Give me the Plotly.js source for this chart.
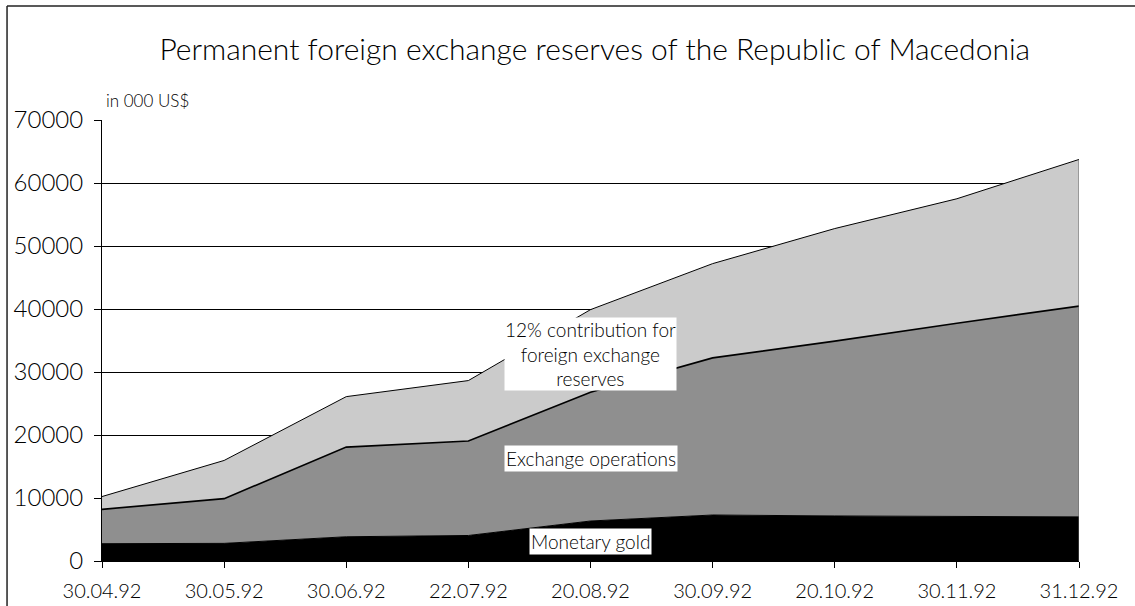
<!DOCTYPE html>
<html>
<head>
<meta charset="utf-8">
<script src="https://cdn.plot.ly/plotly-3.0.1.min.js"></script>
<style>
html,body{margin:0;padding:0;background:#fff;}
#chart{width:1135px;height:606px;}
</style>
</head>
<body>
<div id="chart"></div>
<script>
const categories = ["30.04.92","30.05.92","30.06.92","22.07.92","20.08.92","30.09.92","20.10.92","30.11.92","31.12.92"];
// values in 000 US$ (stack components)
const monetaryGold = [2750, 2800, 3850, 4050, 6350, 7300, 7150, 7100, 7000];
const exchangeOperations = [5450, 7100, 14230, 14990, 20450, 24940, 27750, 30650, 33460];
const contribution12 = [2030, 6060, 8010, 9600, 13100, 14960, 17870, 19750, 23280];

const seriesNames = ["Monetary gold", "Exchange operations", "12% contribution for foreign exchange reserves"];
const fontFam = "Lato, 'Open Sans', sans-serif";
const W = 300;

const traces = [
  {x: categories, y: monetaryGold, name: seriesNames[0], type: "scatter", mode: "lines",
   stackgroup: "one", fillcolor: "#000000", line: {color: "#000000", width: 1}},
  {x: categories, y: exchangeOperations, name: seriesNames[1], type: "scatter", mode: "lines",
   stackgroup: "one", fillcolor: "#8f8f8f", line: {color: "#000000", width: 1.6}},
  {x: categories, y: contribution12, name: seriesNames[2], type: "scatter", mode: "lines",
   stackgroup: "one", fillcolor: "#cbcbcb", line: {color: "#000000", width: 1}}
];

const layout = {
  width: 1135, height: 606,
  margin: {l: 102, r: 56, t: 120, b: 45},
  paper_bgcolor: "#ffffff", plot_bgcolor: "#ffffff",
  showlegend: false,
  font: {family: fontFam, color: "#000", weight: W},
  title: {text: "Permanent foreign exchange reserves of the Republic of Macedonia",
          font: {family: fontFam, size: 30, color: "#000", weight: W},
          x: 0.524, xanchor: "center", y: 0.918, yanchor: "middle"},
  xaxis: {type: "category", range: [0, 8], showgrid: false, zeroline: false,
          showline: true, linecolor: "#000", linewidth: 1,
          ticks: "outside", ticklen: 6, tickcolor: "#000", tickwidth: 1,
          ticklabelstandoff: 6,
          tickfont: {family: fontFam, size: 20, color: "#000", weight: W}},
  yaxis: {range: [0, 70000], dtick: 10000, tickformat: "d",
          showgrid: true, gridcolor: "#000", gridwidth: 1, zeroline: false,
          showline: true, linecolor: "#000", linewidth: 1,
          ticks: "outside", ticklen: 7, tickcolor: "#000", tickwidth: 1,
          ticklabelstandoff: 6,
          tickfont: {family: fontFam, size: 24, color: "#000", weight: W}},
  shapes: [
    {type: "line", xref: "x", yref: "y", x0: 8, x1: 8, y0: 0,
     y1: monetaryGold[8] + exchangeOperations[8] + contribution12[8],
     line: {color: "#666", width: 1}, layer: "above"},
    {type: "line", xref: "paper", yref: "paper", x0: -0.0972, x1: -0.0972, y0: -0.11, y1: 1.2585,
     line: {color: "#222", width: 1.5}},
    {type: "line", xref: "paper", yref: "paper", x0: -0.0972, x1: 1.06, y0: 1.2585, y1: 1.2585,
     line: {color: "#222", width: 1.5}}
  ],
  annotations: [
    {xref: "paper", yref: "paper", x: 0.002, y: 1.016, xanchor: "left", yanchor: "bottom",
     text: "in 000 US$", showarrow: false, font: {family: fontFam, size: 17, color: "#000", weight: W}},
    {xref: "x", yref: "y", x: 4, y: 32900, text: "12% contribution for<br>foreign exchange<br>reserves",
     showarrow: false, bgcolor: "#ffffff", borderpad: 0,
     font: {family: fontFam, size: 19, color: "#000", weight: W}},
    {xref: "x", yref: "y", x: 4, y: 16350, text: "Exchange operations",
     showarrow: false, bgcolor: "#ffffff", borderpad: 1,
     font: {family: fontFam, size: 19, color: "#000", weight: W}},
    {xref: "x", yref: "y", x: 4, y: 3150, text: "Monetary gold",
     showarrow: false, bgcolor: "#ffffff", borderpad: 1,
     font: {family: fontFam, size: 19, color: "#000", weight: W}}
  ]
};

Plotly.newPlot("chart", traces, layout, {displayModeBar: false, staticPlot: true});
</script>
</body>
</html>
